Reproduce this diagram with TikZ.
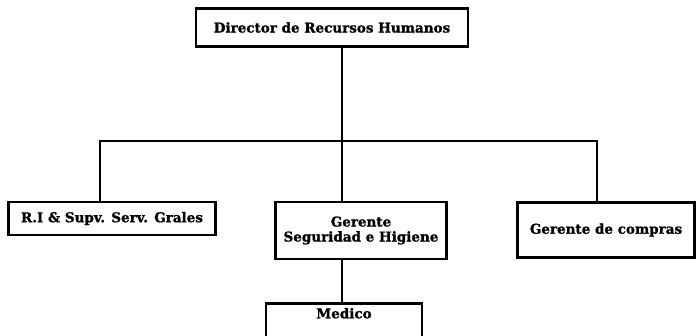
\documentclass[tikz,border=0pt]{standalone}
\usepackage{fontspec}
\setmainfont[BoldFeatures={FakeBold=1.2}]{DejaVu Serif}
\begin{document}
\begin{tikzpicture}[x=1pt,y=1pt,
  post/.style={draw=black, line width=2.6pt, fill=white, font=\bfseries\fontsize{13.5}{15}\selectfont, align=center, inner sep=0pt},
  link/.style={draw=black, line width=1.8pt}]
\useasboundingbox (0,0) rectangle (696,336);
\clip (0,0) rectangle (696,336);
% top position
\node[post, minimum width=272pt, minimum height=38pt] (dir) at (332,308.5) {Director de Recursos Humanos};
% second level
\node[post, minimum width=207pt, minimum height=33pt] (ri) at (112,117.5) {R.I \& Supv. Serv. Grales};
\node[post, minimum width=171pt, minimum height=57pt] (seg) at (361,105.5) {Gerente\\Seguridad e Higiene};
\node[post, minimum width=177pt, minimum height=55pt] (com) at (606,106) {Gerente de compras};
% third level, running off the lower edge
\node[post, anchor=north, minimum width=156pt, text height=15pt, text depth=30pt] (med) at (344,34) {Medico};
% connectors
\coordinate (bus) at (342,195);
\draw[link] (dir.south -| bus) -- (bus);
\draw[link] (ri.north -| 100,0) |- (bus) -| (com.north -| 597,0);
\draw[link] (bus) -- (seg.north -| bus);
\draw[link] (seg.south -| bus) -- (med.north -| bus);
\end{tikzpicture}
\end{document}
